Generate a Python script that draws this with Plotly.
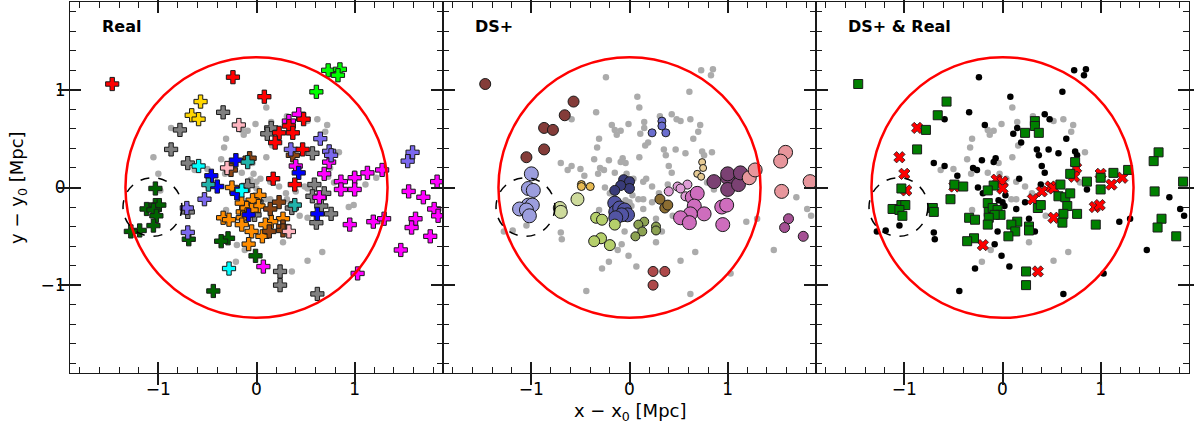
import plotly.graph_objects as go
from plotly.subplots import make_subplots

# Galaxy positions relative to the cluster centre (Mpc)
gal_x = [
    -1.47, -0.24, 0.73, 0.85, 0.83, 0.61, 0.08, 0.10, -0.57, -0.34,
    -0.66, -0.59, -0.87, -0.78, 0.43, 0.48, 0.52, 0.62, 0.72, 0.70,
    0.33, 0.33, 0.37, 0.23, -0.18, -0.01, -0.15, -0.09, -0.13, 0.15,
    0.11, 0.15, 0.65, -0.31, 0.19, 0.16, -0.87, -0.33, 0.35, 0.37,
    0.47, 0.57, 0.74, 0.76, 0.84, -1.05, -0.36, -0.21, -0.07, -0.09,
    -0.04, 0.10, -0.70, -0.59, -0.63, -0.50, -0.30, -0.26, 0.40, 0.43,
    0.74, 0.75, 0.69, 0.73, -1.00, -0.46, -0.32, -0.15, -0.03, 0.04,
    0.17, 0.14, -0.06, 0.00, 0.00, -0.09, -0.15, -0.49, -0.49, -0.40,
    -0.25, 0.03, 0.23, 0.39, 0.59, 0.49, 0.52, 0.40, 0.86, 0.86,
    1.00, 1.00, 1.00, 1.11, 1.13, 1.22, 1.28, -1.03, -0.98, -0.53,
    -0.04, 0.00, 0.02, 0.09, 0.14, 0.23, 0.31, 0.57, 0.64, 0.69,
    0.30, -0.15, -0.14, -0.10, -0.05, -0.02, -0.08, -0.14, -0.15, 0.14,
    -0.31, -1.03, -0.99, -1.12, -1.05, -1.02, -0.71, -0.70, 0.36, 0.39,
    0.66, 0.94, 0.99, 0.76, 0.62, 0.44, 0.52, -0.34, -0.28, 0.27,
    0.15, 0.09, 0.61, 0.95, 1.19, 1.30, -1.05, -1.19, -1.28, 0.27,
    0.27, 0.33, -0.05, 0.13, 0.06, -0.70, -0.69, -0.29, -0.36, 0.27,
    -0.08, -0.20, -0.12, -0.01, 0.67, 1.47, -0.21, 0.52, 0.07, -0.28,
    0.24, 0.36, 0.24, 1.03, -0.44, 0.62, 1.59, 1.54, 1.84, 1.55,
    1.70, 1.81, 1.85, 1.62, 1.58, 1.77, -0.20, 0.79, 0.31,
]
gal_y = [
    1.06, 1.13, 1.20, 1.21, 1.15, 0.98, 0.93, 0.82, 0.88, 0.77,
    0.74, 0.70, 0.61, 0.59, 0.75, 0.70, 0.68, 0.70, 0.64, 0.57,
    0.68, 0.63, 0.56, 0.56, 0.64, 0.65, 0.59, 0.58, 0.54, 0.61,
    0.55, 0.67, 0.50, 0.50, 0.46, 0.43, 0.39, 0.41, 0.39, 0.33,
    0.39, 0.35, 0.37, 0.33, 0.36, 0.31, 0.29, 0.28, 0.30, 0.26,
    0.25, 0.31, 0.25, 0.22, 0.18, 0.19, 0.20, 0.18, 0.22, 0.15,
    0.26, 0.20, 0.14, 0.11, 0.14, 0.12, 0.14, 0.15, 0.14, 0.09,
    0.09, 0.06, 0.08, 0.06, -0.01, 0.02, -0.03, 0.03, 0.01, 0.01,
    0.00, -0.08, 0.01, 0.03, 0.03, 0.01, -0.01, -0.04, 0.06, -0.02,
    0.10, 0.14, -0.02, 0.03, 0.15, 0.10, 0.18, -0.01, -0.03, -0.12,
    -0.13, -0.15, -0.19, -0.12, -0.12, -0.15, -0.12, -0.09, -0.10, -0.06,
    -0.06, -0.16, -0.25, -0.21, -0.23, -0.28, -0.28, -0.31, -0.38, -0.22,
    -0.23, -0.18, -0.18, -0.22, -0.23, -0.29, -0.21, -0.25, -0.21, -0.18,
    -0.19, -0.20, -0.18, -0.27, -0.27, -0.29, -0.31, -0.31, -0.33, -0.32,
    -0.35, -0.38, -0.36, -0.38, -0.35, -0.32, -0.39, -0.44, -0.45, -0.40,
    -0.44, -0.45, -0.45, -0.45, -0.50, -0.46, -0.53, -0.52, -0.55, -0.56,
    -0.58, -0.59, -0.64, -0.70, -0.66, -0.64, -0.76, -0.75, -0.81, -0.83,
    -0.86, -0.86, -1.00, -0.88, -1.06, -1.09, 0.36, 0.27, 0.06, -0.04,
    -0.10, -0.22, -0.29, -0.32, -0.41, -0.50, -0.06, 0.05, 0.73,
]
# Membership in the true (real) groups; "" = not in a group
real_group = [
    "R", "R", "LI", "LI", "LI", "LI", "R", "", "GO", "GR",
    "GO", "GO", "", "GR", "MA", "R", "", "", "", "",
    "MA", "R", "R", "R", "PK", "", "", "", "", "GR",
    "GR", "", "SL", "", "R", "", "GR", "", "SL", "BR",
    "R", "GR", "SL", "SL", "", "", "", "BL", "BR", "TE",
    "", "", "GR", "CY", "", "", "PK", "BR", "MA", "BL",
    "MA", "", "MA", "", "", "BL", "", "", "", "",
    "R", "", "", "", "", "GR", "CY", "TE", "", "BL",
    "OR", "OR", "", "R", "GR", "", "", "", "MA", "MA",
    "MA", "", "MA", "", "MA", "", "MA", "DG", "", "SL",
    "OR", "GR", "OR", "", "", "BR", "", "GR", "MA", "GR",
    "", "OR", "OR", "OR", "OR", "GR", "BL", "OR", "OR", "BR",
    "", "DG", "DG", "DG", "DG", "DG", "SL", "GR", "GR", "TE",
    "GR", "", "", "GR", "BL", "", "", "OR", "OR", "OR",
    "OR", "OR", "GR", "MA", "MA", "MA", "DG", "DG", "DG", "BR",
    "BR", "PK", "OR", "BR", "OR", "SL", "DG", "DG", "DG", "",
    "OR", "", "", "DG", "", "MA", "", "", "MA", "CY",
    "GR", "", "GR", "MA", "DG", "GR", "SL", "SL", "MA", "MA",
    "MA", "MA", "MA", "MA", "MA", "MA", "BL", "", "",
]
# Membership in the DS+ groups; "" = not in a group
ds_group = [
    "MR", "", "", "", "", "", "", "", "MR", "",
    "MR", "", "MR", "MR", "", "", "", "", "", "",
    "PE", "PE", "PE", "PE", "", "", "", "", "", "",
    "", "", "", "", "", "", "MR", "", "", "",
    "", "", "", "", "", "MR", "", "", "", "",
    "", "", "", "", "", "", "", "", "", "",
    "WH", "WH", "WH", "WH", "LA", "", "", "", "", "",
    "", "", "N1", "N1", "N1", "N1", "N1", "GD", "GD", "GD",
    "", "", "", "", "LP", "LP", "LP", "LP", "DP", "",
    "DP", "DP", "DP", "DP", "DP", "SA", "SA", "LA", "LA", "PY",
    "", "", "", "", "", "", "BD", "LP", "OC", "OC",
    "", "N2", "N2", "N2", "N2", "N2", "N2", "N2", "YG", "",
    "", "LA", "LA", "LA", "LA", "LA", "PY", "PY", "BD", "BD",
    "OC", "OC", "OC", "OC", "OC", "", "OC", "YG", "YG", "",
    "OL", "OL", "OC", "OC", "", "", "", "", "", "OL",
    "OL", "", "", "OL", "OL", "", "", "YG", "YG", "",
    "", "YG", "", "", "", "", "", "", "", "",
    "RB", "RB", "RB", "", "", "", "SA", "SA", "SA", "SA",
    "", "", "", "PU", "PU", "PU", "", "", "",
]

panel_titles = ["Real", "DS+", "DS+ & Real"]
CIRCLE_R = 1.335                  # aperture radius (Mpc)
SUB_CENTER = (-1.06, -0.20)       # highlighted substructure
SUB_R = 0.30
AX_RANGE = [-1.9, 1.9]

REAL_COLORS = {
    "GR": "#808080", "OR": "#ff8c00", "DG": "#006400", "BR": "#8b4513",
    "MA": "#ff00ff", "SL": "#7b68ee", "BL": "#0000ff", "CY": "#00ffff",
    "TE": "#20b2aa", "PK": "#ffb6c1", "GO": "#ffd700", "LI": "#00ff00",
    "R": "#ff0000",
}
DS_STYLE = {  # colour, marker size
    "MR": ("#843c39", 11), "LA": ("#9c9ede", 14), "PY": ("#cedb9c", 13),
    "GD": ("#e7ba52", 8), "N1": ("#393b79", 10), "N2": ("#5254a3", 14),
    "YG": ("#b5cf6b", 11), "OL": ("#8ca252", 9), "BD": ("#8c6d31", 10),
    "PE": ("#6b6ecf", 8), "LP": ("#de9ed6", 9), "OC": ("#ce6dbd", 14),
    "DP": ("#7b4173", 14), "SA": ("#e7969c", 14), "WH": ("#e7cb94", 7),
    "RB": ("#ad494a", 10), "PU": ("#a55194", 10),
}
FIELD_GRAY = "#ababab"
AX_COLOR = "#1a1a1a"
FONT = "DejaVu Sans"

n = len(gal_x)


def pick(cond):
    idx = [i for i in range(n) if cond(i)]
    return [gal_x[i] for i in idx], [gal_y[i] for i in idx]


fig = make_subplots(rows=1, cols=3, horizontal_spacing=0)

# --- Panel 1: real groups --------------------------------------------------
xs, ys = pick(lambda i: real_group[i] == "")
fig.add_trace(go.Scatter(x=xs, y=ys, mode="markers",
                         marker=dict(size=6.5, color=FIELD_GRAY, line=dict(width=0))),
              row=1, col=1)
for key, col in REAL_COLORS.items():
    xs, ys = pick(lambda i, k=key: real_group[i] == k)
    fig.add_trace(go.Scatter(x=xs, y=ys, mode="markers",
                             marker=dict(symbol="cross", size=11, color=col,
                                         line=dict(width=1, color=AX_COLOR))),
                  row=1, col=1)

# --- Panel 2: DS+ groups ---------------------------------------------------
xs, ys = pick(lambda i: ds_group[i] == "")
fig.add_trace(go.Scatter(x=xs, y=ys, mode="markers",
                         marker=dict(size=6.5, color=FIELD_GRAY, line=dict(width=0))),
              row=1, col=2)
for key, (col, size) in DS_STYLE.items():
    xs, ys = pick(lambda i, k=key: ds_group[i] == k)
    fig.add_trace(go.Scatter(x=xs, y=ys, mode="markers",
                             marker=dict(symbol="circle", size=size, color=col,
                                         line=dict(width=1, color=AX_COLOR))),
                  row=1, col=2)

# --- Panel 3: comparison ---------------------------------------------------
xs, ys = pick(lambda i: real_group[i] == "" and ds_group[i] == "")
fig.add_trace(go.Scatter(x=xs, y=ys, mode="markers",
                         marker=dict(size=6.5, color=FIELD_GRAY, line=dict(width=0))),
              row=1, col=3)
xs, ys = pick(lambda i: real_group[i] != "" and ds_group[i] == "")
fig.add_trace(go.Scatter(x=xs, y=ys, mode="markers",
                         marker=dict(size=6.5, color="black", line=dict(width=0))),
              row=1, col=3)
xs, ys = pick(lambda i: real_group[i] == "" and ds_group[i] != "")
fig.add_trace(go.Scatter(x=xs, y=ys, mode="markers",
                         marker=dict(symbol="x", size=10, color="#ff0000",
                                     line=dict(width=0.8, color=AX_COLOR))),
              row=1, col=3)
xs, ys = pick(lambda i: real_group[i] != "" and ds_group[i] != "")
fig.add_trace(go.Scatter(x=xs, y=ys, mode="markers",
                         marker=dict(symbol="square", size=9, color="#008000",
                                     line=dict(width=1, color=AX_COLOR))),
              row=1, col=3)

# --- Axes: major ticks on the main axes, minor ticks on twin axes -----------
major = dict(
    range=AX_RANGE, tick0=0, dtick=1, ticks="inside", ticklen=11, tickwidth=1.5,
    tickcolor=AX_COLOR, showgrid=False, zeroline=False, mirror="allticks",
    tickfont=dict(family=FONT, size=17, color="black"),
)
minor = dict(
    range=AX_RANGE, tick0=0, dtick=0.2, ticks="inside", ticklen=6, tickwidth=1.2,
    tickcolor=AX_COLOR, showgrid=False, zeroline=False, mirror="allticks",
    showticklabels=False, showline=False,
)
domains = [[0, 1 / 3], [1 / 3, 2 / 3], [2 / 3, 1]]
for k in range(3):
    sx = "" if k == 0 else str(k + 1)
    tw = str(k + 4)
    fig.update_layout({
        f"xaxis{sx}": dict(major, domain=domains[k], anchor=f"y{sx}",
                           showline=True, linecolor=AX_COLOR, linewidth=1.2),
        f"yaxis{sx}": dict(major, anchor=f"x{sx}", showticklabels=(k == 0),
                           showline=True, linecolor=AX_COLOR, linewidth=1.2),
        f"xaxis{tw}": dict(minor, anchor=f"y{sx}", overlaying=f"x{sx}"),
        f"yaxis{tw}": dict(minor, anchor=f"x{sx}", overlaying=f"y{sx}"),
    })
    # transparent copies of one galaxy so the twin axes are laid out
    fig.add_trace(go.Scatter(x=gal_x[:1], y=gal_y[:1], xaxis=f"x{tw}",
                             yaxis=f"y{sx}", mode="markers",
                             marker=dict(opacity=0)))
    fig.add_trace(go.Scatter(x=gal_x[:1], y=gal_y[:1], xaxis=f"x{sx}",
                             yaxis=f"y{tw}", mode="markers",
                             marker=dict(opacity=0)))

    fig.add_shape(type="circle", xref=f"x{sx}", yref=f"y{sx}",
                  x0=-CIRCLE_R, x1=CIRCLE_R, y0=-CIRCLE_R, y1=CIRCLE_R,
                  line=dict(color="#ff0000", width=2.5), layer="above")
    fig.add_shape(type="circle", xref=f"x{sx}", yref=f"y{sx}",
                  x0=SUB_CENTER[0] - SUB_R, x1=SUB_CENTER[0] + SUB_R,
                  y0=SUB_CENTER[1] - SUB_R, y1=SUB_CENTER[1] + SUB_R,
                  line=dict(color="black", width=1.5, dash="dash"), layer="above")
    fig.add_annotation(text=f"<b>{panel_titles[k]}</b>", xref=f"x{sx} domain",
                       yref=f"y{sx} domain", x=0.08, y=0.933, xanchor="left",
                       yanchor="middle", showarrow=False,
                       font=dict(family=FONT, size=16, color="black"))

fig.update_traces(showlegend=False, hoverinfo="skip")

fig.add_annotation(text="x − x<sub>0</sub> [Mpc]", xref="paper", yref="paper",
                   x=0.5, y=-0.105, xanchor="center", yanchor="middle",
                   showarrow=False, font=dict(family=FONT, size=18, color="black"))
fig.add_annotation(text="y − y<sub>0</sub> [Mpc]", xref="paper", yref="paper",
                   x=-0.047, y=0.5, xanchor="center", yanchor="middle",
                   textangle=-90, showarrow=False,
                   font=dict(family=FONT, size=18, color="black"))

fig.update_layout(width=1194, height=432, margin=dict(l=70, r=5, t=2, b=59),
                  plot_bgcolor="white", paper_bgcolor="white",
                  font=dict(family=FONT))

fig.write_html("out.html")
